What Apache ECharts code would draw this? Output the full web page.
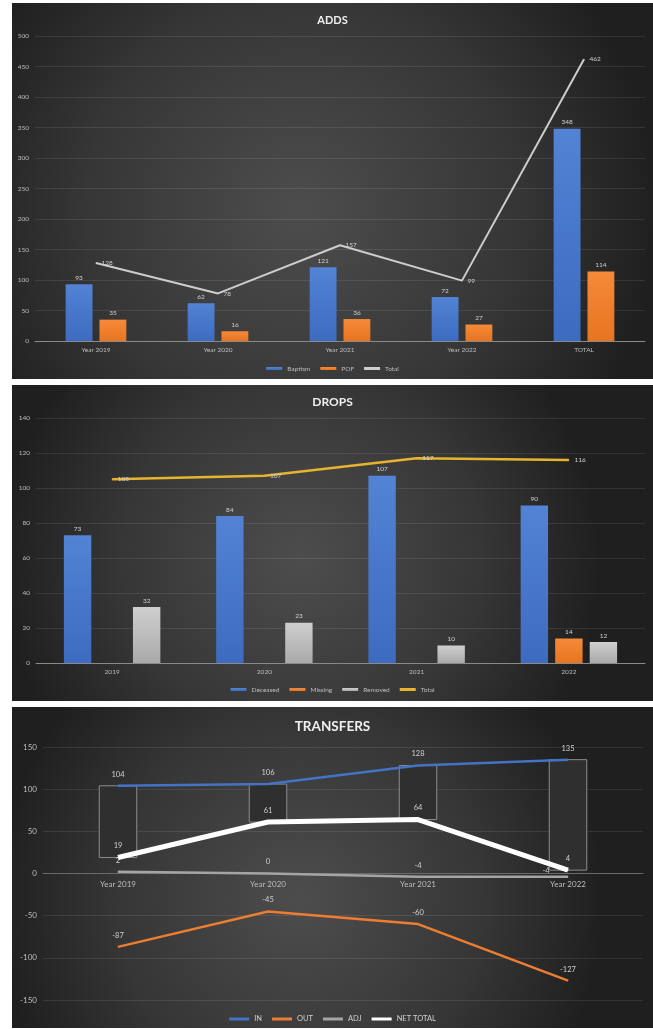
<!DOCTYPE html>
<html><head><meta charset="utf-8">
<script src="https://cdn.jsdelivr.net/npm/echarts@6/dist/echarts.min.js"></script>
<style>
html,body{margin:0;padding:0;background:#fff;width:653px;height:1029px;overflow:hidden;}
.p{position:absolute;left:12px;width:641px;}
#c1{top:3px;height:376px;}
#c2{top:385px;height:316px;}
#c3{top:707px;height:321px;}
</style></head><body>
<div id="c1" class="p"></div><div id="c2" class="p"></div><div id="c3" class="p"></div>
<script>
// ---- data ----
const addsCategories = ['Year 2019','Year 2020','Year 2021','Year 2022','TOTAL'];
const baptism = [93, 62, 121, 72, 348];
const pof = [35, 16, 36, 27, 114];
const addsTotal = [128, 78, 157, 99, 462];

const dropsCategories = ['2019','2020','2021','2022'];
const deceased = [73, 84, 107, 90];
const missing = [null, null, null, 14];
const removed = [32, 23, 10, 12];
const dropsTotal = [105, 107, 117, 116];

const transferCategories = ['Year 2019','Year 2020','Year 2021','Year 2022'];
const transferIn = [104, 106, 128, 135];
const transferOut = [-87, -45, -60, -127];
const transferAdj = [2, 0, -4, -4];
const netTotal = [19, 61, 64, 4];

// ---- styles ----
const FONT = 'Lato, "Open Sans", sans-serif';
function bg(cx, cy){
  return {type:'radial', x:cx, y:cy, r:0.95, colorStops:[
    {offset:0, color:'#4d4d4d'}, {offset:0.6, color:'#363636'}, {offset:1, color:'#1f1f1f'}]};
}
function vgrad(top, bottom){
  return {type:'linear', x:0, y:0, x2:0, y2:1, colorStops:[{offset:0,color:top},{offset:1,color:bottom}]};
}
const BLUE = vgrad('#5283d4', '#3d6bc0');
const ORANGE = vgrad('#f58a3a', '#e8741f');
const GRAY = vgrad('#cfcfcf', '#a9a9a9');
const LABEL = {color:'#d2d2d2', fontSize:6.5, fontFamily:FONT};
const AXLABEL = {color:'#bdbdbd', fontSize:7, fontFamily:FONT};
const SPLIT = {lineStyle:{color:'rgba(255,255,255,0.09)', width:1}};

function baseAxes(cats, min, max, interval, labelSize){
  return {
    xAxis:{type:'category', data:cats, axisTick:{show:false},
      axisLine:{lineStyle:{color:'#8a8a8a', width:1}},
      axisLabel:Object.assign({}, AXLABEL, {fontSize:labelSize, margin:5})},
    yAxis:{type:'value', min:min, max:max, interval:interval,
      axisLine:{show:false}, axisTick:{show:false}, splitLine:SPLIT,
      axisLabel:Object.assign({}, AXLABEL, {fontSize:labelSize, margin:6})}
  };
}

// ---- ADDS ----
const c1 = echarts.init(document.getElementById('c1'));
c1.setOption(Object.assign({
  backgroundColor:bg(0.45, 0.55),
  animation:false,
  textStyle:{fontFamily:FONT},
  title:{text:'ADDS', left:'center', top:7, textStyle:{color:'#efefef', fontSize:11, fontWeight:'bold', fontFamily:FONT}},
  legend:{bottom:7, padding:0, left:'center', itemWidth:16, itemHeight:3, itemGap:10, icon:'rect',
    textStyle:{color:'#bdbdbd', fontSize:6.5, fontFamily:FONT}, data:['Baptism','POF','Total']},
  grid:{left:23, right:8, top:33, bottom:38, containLabel:false},
  series:[
    {type:'bar', name:'Baptism', data:baptism, barWidth:'22%', barGap:'26%', itemStyle:{color:BLUE},
      label:Object.assign({show:true, position:'top', distance:3}, LABEL)},
    {type:'bar', name:'POF', data:pof, barWidth:'22%', barGap:'26%', itemStyle:{color:ORANGE},
      label:Object.assign({show:true, position:'top', distance:3}, LABEL)},
    {type:'line', name:'Total', data:addsTotal, symbol:'circle', symbolSize:1,
      lineStyle:{color:'#cdcdcd', width:2}, itemStyle:{color:'#cdcdcd'},
      label:Object.assign({show:true, position:'right', distance:5}, LABEL)}
  ]
}, baseAxes(addsCategories, 0, 500, 50, 6.5)));

// ---- DROPS ----
const c2 = echarts.init(document.getElementById('c2'));
c2.setOption(Object.assign({
  backgroundColor:bg(0.45, 0.55),
  animation:false,
  textStyle:{fontFamily:FONT},
  title:{text:'DROPS', left:'center', top:6, textStyle:{color:'#efefef', fontSize:12, fontWeight:'bold', fontFamily:FONT}},
  legend:{bottom:8, padding:0, left:'center', itemWidth:16, itemHeight:3, itemGap:10, icon:'rect',
    textStyle:{color:'#bdbdbd', fontSize:6.5, fontFamily:FONT}, data:['Deceased','Missing','Removed','Total']},
  grid:{left:24, right:8, top:33, bottom:38, containLabel:false},
  series:[
    {type:'bar', name:'Deceased', data:deceased, barWidth:'18%', barGap:'26%', itemStyle:{color:BLUE},
      label:Object.assign({show:true, position:'top', distance:3}, LABEL)},
    {type:'bar', name:'Missing', data:missing, barWidth:'18%', barGap:'26%', itemStyle:{color:ORANGE},
      label:Object.assign({show:true, position:'top', distance:3}, LABEL)},
    {type:'bar', name:'Removed', data:removed, barWidth:'18%', barGap:'26%', itemStyle:{color:GRAY},
      label:Object.assign({show:true, position:'top', distance:3}, LABEL)},
    {type:'line', name:'Total', data:dropsTotal, symbol:'circle', symbolSize:1,
      lineStyle:{color:'#e6b52e', width:2.5}, itemStyle:{color:'#e6b52e'},
      label:Object.assign({show:true, position:'right', distance:5}, LABEL)}
  ]
}, baseAxes(dropsCategories, 0, 140, 20, 6.5)));

// ---- TRANSFERS ----
const el3 = document.getElementById('c3');
const c3 = echarts.init(el3);
const LBL3 = Object.assign({}, LABEL, {fontSize:7.5});
const grid3 = {left:31, right:10, top:40, bottom:28};
const plotH3 = el3.clientHeight - grid3.top - grid3.bottom;
const axes3 = baseAxes(transferCategories, -150, 150, 50, 8);
// category axis sits on the zero line (middle of the symmetric value range)
axes3.xAxis.offset = -plotH3 / 2;
axes3.xAxis.axisLine = {onZero:false, lineStyle:{color:'#6a6a6a', width:1}};
axes3.xAxis.axisLabel.margin = 7;
c3.setOption(Object.assign({
  backgroundColor:bg(0.45, 0.6),
  animation:false,
  textStyle:{fontFamily:FONT},
  title:{text:'TRANSFERS', left:'center', top:8, textStyle:{color:'#efefef', fontSize:13.5, fontWeight:'bold', fontFamily:FONT}},
  legend:{bottom:5, padding:0, left:'center', itemWidth:20, itemHeight:3, itemGap:10, icon:'rect',
    textStyle:{color:'#d0d0d0', fontSize:7.5, fontFamily:FONT}, data:['IN','OUT','ADJ','NET TOTAL']},
  grid:Object.assign({containLabel:false}, grid3),
  series:[
    {type:'custom', name:'UpDown', silent:true, z:1,
      data:transferIn.map((v,i)=>[i, v, netTotal[i]]),
      encode:{x:0, y:[1,2]},
      renderItem:function(params, api){
        const a = api.coord([api.value(0), api.value(1)]);
        const b = api.coord([api.value(0), api.value(2)]);
        const w = api.size([1,0])[0]*0.25;
        return {type:'rect', shape:{x:a[0]-w/2, y:Math.min(a[1],b[1]), width:w, height:Math.abs(b[1]-a[1])},
          style:{fill:'#2f2f2f', stroke:'#8c8c8c', lineWidth:1}};
      }},
    {type:'line', name:'IN', data:transferIn, symbol:'circle', symbolSize:1, z:3,
      lineStyle:{color:'#4472c4', width:2.5}, itemStyle:{color:'#4472c4'},
      label:Object.assign({show:true, position:'top', distance:7}, LBL3)},
    {type:'line', name:'OUT', data:transferOut, symbol:'circle', symbolSize:1, z:3,
      lineStyle:{color:'#ed7d31', width:2.5}, itemStyle:{color:'#ed7d31'},
      label:Object.assign({show:true, position:'top', distance:7}, LBL3)},
    {type:'line', name:'ADJ', symbol:'circle', symbolSize:1, z:3,
      data:transferAdj.map((v,i)=> i===3 ? {value:v, label:{offset:[-22,5]}} : v),
      lineStyle:{color:'#a5a5a5', width:2.5}, itemStyle:{color:'#a5a5a5'},
      label:Object.assign({show:true, position:'top', distance:7}, LBL3)},
    {type:'line', name:'NET TOTAL', data:netTotal, symbol:'circle', symbolSize:1, z:4,
      lineStyle:{color:'#ffffff', width:5}, itemStyle:{color:'#ffffff'},
      label:Object.assign({show:true, position:'top', distance:7}, LBL3)}
  ]
}, axes3));
</script>
</body></html>
